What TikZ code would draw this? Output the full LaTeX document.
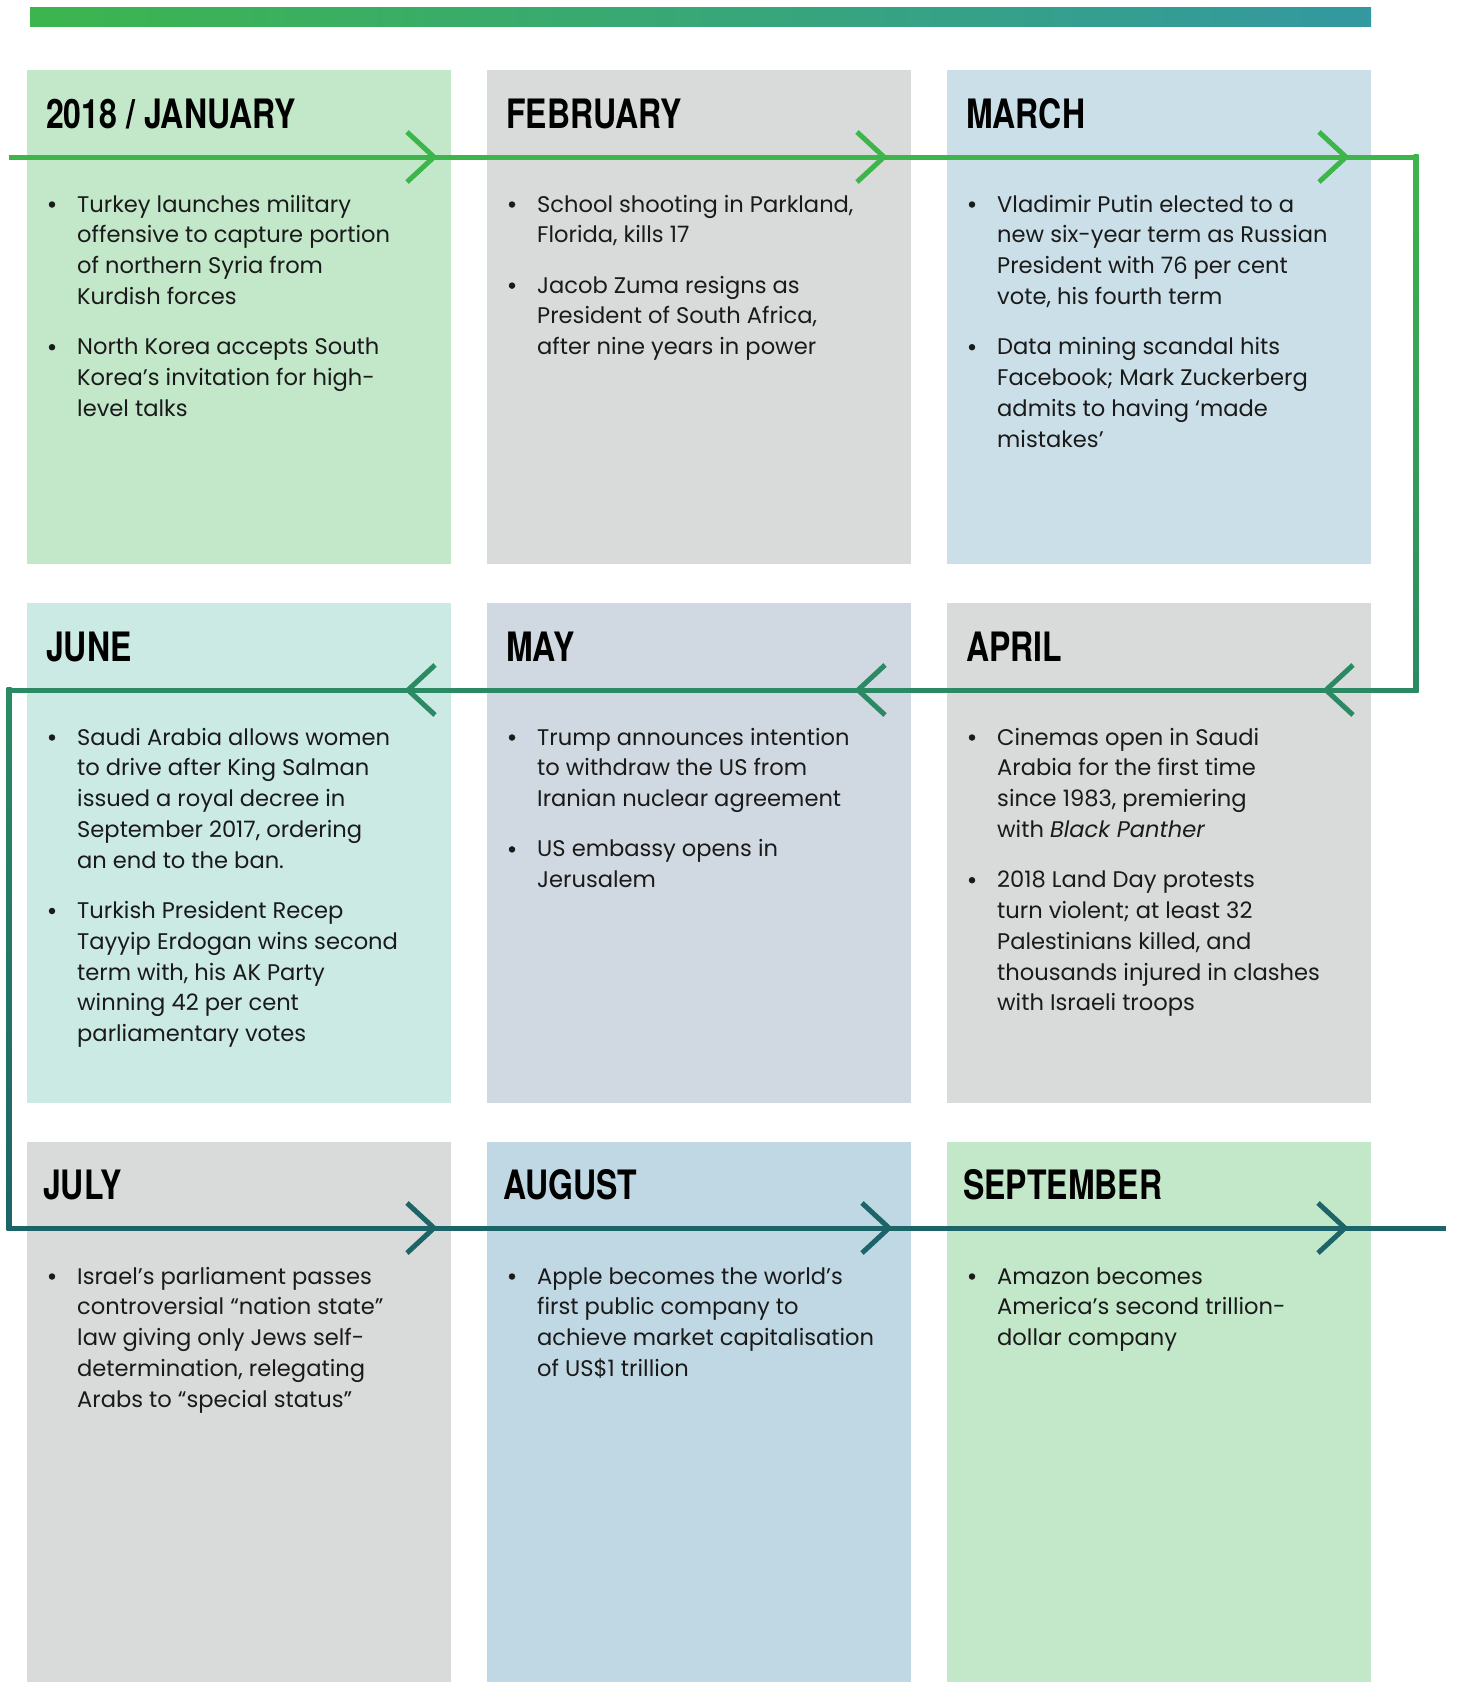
\documentclass[tikz,border=0pt]{standalone}
\usepackage{fontspec}
\usetikzlibrary{calc}
\newfontfamily\bodyfont{Poppins}
\newfontfamily\headfont[FakeStretch=0.79]{TeX Gyre Heros}
\definecolor{lnA}{HTML}{3DB54B}
\definecolor{lnB}{HTML}{2B8A63}
\definecolor{lnC}{HTML}{1C6468}
\definecolor{barL}{HTML}{3DB54E}
\definecolor{barR}{HTML}{3498A0}
\definecolor{bxGreen}{HTML}{C2E7C9}
\definecolor{bxGray}{HTML}{D9DADA}
\definecolor{bxBlue}{HTML}{CADFE7}
\definecolor{bxMint}{HTML}{CBEAE4}
\definecolor{bxSlate}{HTML}{D0D9E1}
\definecolor{bxAug}{HTML}{BFD8E4}
\definecolor{txt}{HTML}{1A1A1A}
\tikzset{
  mbox/.style={inner sep=0pt, outer sep=0pt, anchor=north west, minimum width=424pt},
  head/.style={anchor=base west, inner sep=0pt, text=black, font=\headfont\bfseries\fontsize{40.5}{40}\selectfont},
  bul/.style={circle, fill=txt, inner sep=0pt, minimum size=6.5pt},
  itm/.style={anchor=base west, inner sep=0pt, text=txt},
  tline/.style={line width=5pt},
  chev/.style={line width=5pt, line join=miter},
}
\newcommand\evt[4]{%
  \node[bul] (#1b) at (#2+25,#3-7.5) {};
  \node[itm] (#1) at (#2+50,#3) {\parbox[t]{395pt}{\bodyfont\fontsize{22.6}{30.8}\selectfont #4}};
}
\newcommand\chevR[2]{\draw[chev,#2] ($(#1)+(-27,-25)$) -- (#1) -- ($(#1)+(-27,25)$);}
\newcommand\chevL[2]{\draw[chev,#2] ($(#1)+(27,-25)$) -- (#1) -- ($(#1)+(27,25)$);}
\begin{document}
\begin{tikzpicture}[x=1pt,y=-1pt]
\useasboundingbox (0,0) rectangle (1457,1682);
% top bar
\shade[left color=barL, right color=barR] (30,7) rectangle (1371,26);
% boxes
\node[mbox, fill=bxGreen, minimum height=494pt] (jan) at (27,70) {};
\node[mbox, fill=bxGray,  minimum height=494pt] (feb) at (487,70) {};
\node[mbox, fill=bxBlue,  minimum height=494pt] (mar) at (947,70) {};
\node[mbox, fill=bxMint,  minimum height=500pt] (jun) at (27,603) {};
\node[mbox, fill=bxSlate, minimum height=500pt] (may) at (487,603) {};
\node[mbox, fill=bxGray,  minimum height=500pt] (apr) at (947,603) {};
\node[mbox, fill=bxGray,  minimum height=540pt] (jul) at (27,1142) {};
\node[mbox, fill=bxAug,   minimum height=540pt] (aug) at (487,1142) {};
\node[mbox, fill=bxGreen, minimum height=540pt] (sep) at (947,1142) {};
% headings
\node[head] (hjan) at (46,128) {2018 / JANUARY};
\node[head] (hfeb) at (506,128) {FEBRUARY};
\node[head] (hmar) at (966,128) {MARCH};
\node[head] (hjun) at (46,661) {JUNE};
\node[head] (hmay) at (506,661) {MAY};
\node[head] (hapr) at (966,661) {APRIL};
\node[head] (hjul) at (43,1199) {JULY};
\node[head] (haug) at (503,1199) {AUGUST};
\node[head] (hsep) at (963,1199) {SEPTEMBER};
% timeline path
\coordinate (p0) at (9,157);
\coordinate (p1) at (1416,157);
\coordinate (p2) at (1416,690);
\coordinate (p3) at (9,690);
\coordinate (p4) at (9,1228);
\coordinate (p5) at (1446,1228);
\draw[tline, draw=lnA] (p0) -- (p1);
\shade[top color=lnA, bottom color=lnB] ($(p1)+(-2.5,-2.5)$) rectangle ($(p2)+(2.5,2.5)$);
\draw[tline, draw=lnB] (p2) -- (p3);
\shade[top color=lnB, bottom color=lnC] ($(p3)+(-2.5,-2.5)$) rectangle ($(p4)+(2.5,2.5)$);
\draw[tline, draw=lnC] (p4) -- (p5);
% chevrons
\coordinate (a1) at (434,157); \coordinate (a2) at (884,157); \coordinate (a3) at (1346,157);
\coordinate (b1) at (408,690); \coordinate (b2) at (858,690); \coordinate (b3) at (1326,690);
\coordinate (c1) at (434,1228); \coordinate (c2) at (889,1228); \coordinate (c3) at (1345,1228);
\chevR{a1}{draw=lnA}\chevR{a2}{draw=lnA}\chevR{a3}{draw=lnA}
\chevL{b1}{draw=lnB}\chevL{b2}{draw=lnB}\chevL{b3}{draw=lnB}
\chevR{c1}{draw=lnC}\chevR{c2}{draw=lnC}\chevR{c3}{draw=lnC}
% January
\evt{jan1}{27}{212}{Turkey launches military\\offensive to capture portion\\of northern Syria from\\Kurdish forces}
\evt{jan2}{27}{354.7}{North Korea accepts South\\Korea’s invitation for high-\\level talks}
% February
\evt{feb1}{487}{212}{School shooting in Parkland,\\Florida, kills 17}
\evt{feb2}{487}{293.1}{Jacob Zuma resigns as\\President of South Africa,\\after nine years in power}
% March
\evt{mar1}{947}{212}{Vladimir Putin elected to a\\new six-year term as Russian\\President with 76 per cent\\vote, his fourth term}
\evt{mar2}{947}{354.7}{Data mining scandal hits\\Facebook; Mark Zuckerberg\\admits to having ‘made\\mistakes’}
% June
\evt{jun1}{27}{745}{Saudi Arabia allows women\\to drive after King Salman\\issued a royal decree in\\September 2017, ordering\\an end to the ban.}
\evt{jun2}{27}{918.5}{Turkish President Recep\\Tayyip Erdogan wins second\\term with, his AK Party\\winning 42 per cent\\parliamentary votes}
% May
\evt{may1}{487}{745}{Trump announces intention\\to withdraw the US from\\Iranian nuclear agreement}
\evt{may2}{487}{856.9}{US embassy opens in\\Jerusalem}
% April
\evt{apr1}{947}{745}{Cinemas open in Saudi\\Arabia for the first time\\since 1983, premiering\\with \textit{Black Panther}}
\evt{apr2}{947}{887.7}{2018 Land Day protests\\turn violent; at least 32\\Palestinians killed, and\\thousands injured in clashes\\with Israeli troops}
% July
\evt{jul1}{27}{1284}{Israel’s parliament passes\\controversial “nation state”\\law giving only Jews self-\\determination, relegating\\Arabs to “special status”}
% August
\evt{aug1}{487}{1284}{Apple becomes the world’s\\first public company to\\achieve market capitalisation\\of US\$1 trillion}
% September
\evt{sep1}{947}{1284}{Amazon becomes\\America’s second trillion-\\dollar company}
\end{tikzpicture}
\end{document}
